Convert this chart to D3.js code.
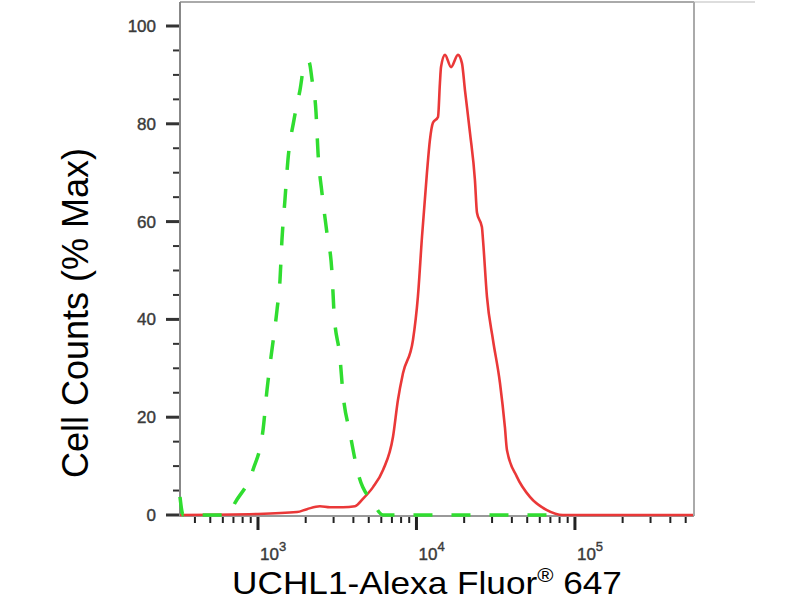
<!DOCTYPE html>
<html>
<head>
<meta charset="utf-8">
<script src="https://cdn.jsdelivr.net/npm/d3@7"></script>
<style>
  body { margin: 0; background: #fff; }
  text { font-family: "Liberation Sans", Arial, sans-serif; }
</style>
</head>
<body>
<svg id="canvas"></svg>
<script>
// fluorescence intensity (x) and % max (y)
const redX = [322, 986, 1762, 2037, 2460, 2844, 3436, 4093, 4592, 5321, 6152, 7112, 7638, 8222, 9506,
  10209, 10839, 11641, 12162, 12706, 13677, 14060, 14289, 15136, 16520, 18281, 19364, 20230, 21777,
  23388, 24099, 25882, 26303, 27861, 30409, 33651, 36141, 37239, 43053, 52000, 66527, 83946, 556000];
const redY = [0, 0.2, 0.6, 1.2, 1.8, 1.6, 1.6, 1.8, 3.3, 5.7, 9.2, 16, 23.5, 29, 35.8,
  44.6, 56.9, 69.9, 76.7, 80.2, 81.4, 88.3, 91.6, 94.1, 91.6, 94.1, 92.4, 86.9, 78.1,
  68.5, 61.8, 58.9, 56.2, 44.6, 35.8, 27, 18, 13.3, 7.8, 3.7, 1.0, 0, 0];

const greenX = [322, 337, 647, 716, 929, 1076, 1140, 1208, 1318, 1377, 1416, 1479, 1545, 1687, 1841,
  1982, 2099, 2193, 2323, 2393, 2535, 2723, 2931, 3020, 3289, 3436, 3802, 4276, 5321, 6152, 67600];
const greenY = [3.7, 0, 0, 2.5, 9.2, 17.4, 25.6, 32.3, 41.9, 48.1, 56.2, 64.4, 72.6, 80.8, 86.9,
  92.6, 92.6, 89, 82.4, 74, 65.8, 57.7, 49.5, 41.3, 32.3, 24.9, 16.8, 8.6, 2.5, 0, 0];

const xDomain = [322, 556000];
const yDomain = [0, 100];
const yLabels = [0, 20, 40, 60, 80, 100];
const xDecades = [3, 4, 5];

const width = 800, height = 600;
const plotL = 180, plotR = 694, plotT = 2, plotB = 516;

const svg = d3.select("#canvas").attr("width", width).attr("height", height);

const x = d3.scaleLog().domain(xDomain).range([plotL, 693]);
const y = d3.scaleLinear().domain(yDomain).range([515, 26]);

// frame
svg.append("line").attr("x1", 693).attr("x2", 755).attr("y1", plotT).attr("y2", plotT)
  .attr("stroke", "#ddd").attr("stroke-width", 2);
svg.append("line").attr("x1", plotL).attr("x2", plotR).attr("y1", plotT).attr("y2", plotT)
  .attr("stroke", "#aaa").attr("stroke-width", 2);
svg.append("line").attr("x1", plotR).attr("x2", plotR).attr("y1", plotT).attr("y2", plotB)
  .attr("stroke", "#aaa").attr("stroke-width", 2);

// y axis
const yMinor = d3.range(0, 101, 5);
svg.selectAll(".ytick").data(yMinor).enter().append("line")
  .attr("x1", d => plotL - (d % 20 === 0 ? 14 : 7)).attr("x2", plotL)
  .attr("y1", d => y(d)).attr("y2", d => y(d))
  .attr("stroke", "#333").attr("stroke-width", d => d % 20 === 0 ? 3 : 2);
svg.selectAll(".ylab").data(yLabels).enter().append("text")
  .attr("x", 156).attr("y", d => y(d)).attr("dy", "0.35em")
  .attr("text-anchor", "end").attr("font-size", 17).attr("fill", "#3a3a3a")
  .attr("stroke", "#3a3a3a").attr("stroke-width", 0.4)
  .text(d => d);
svg.append("line").attr("x1", plotL).attr("x2", plotL).attr("y1", plotT).attr("y2", plotB)
  .attr("stroke", "#888").attr("stroke-width", 2);

// x axis
const xTicks = [];
for (let e = 2; e <= 5; e++) for (let k = 1; k <= 9; k++) {
  const v = k * Math.pow(10, e);
  if (v >= xDomain[0] && v <= xDomain[1]) xTicks.push({ v: v, major: k === 1 });
}
svg.selectAll(".xtick").data(xTicks).enter().append("line")
  .attr("x1", d => x(d.v)).attr("x2", d => x(d.v))
  .attr("y1", plotB).attr("y2", d => plotB + (d.major ? 14 : 7))
  .attr("stroke", "#222").attr("stroke-width", d => d.major ? 3 : 2);
svg.append("line").attr("x1", plotL).attr("x2", plotR).attr("y1", plotB).attr("y2", plotB)
  .attr("stroke", "#999").attr("stroke-width", 2);

const xl = svg.selectAll(".xlab").data(xDecades).enter().append("text")
  .attr("x", d => x(Math.pow(10, d)) + 2).attr("y", 560)
  .attr("font-size", 17).attr("fill", "#3a3a3a")
  .attr("stroke", "#3a3a3a").attr("stroke-width", 0.4);
xl.append("tspan").text("10");
xl.append("tspan").attr("dy", -9).attr("font-size", 13).text(d => d);

// curves
const line = d3.line().x(d => x(d[0])).y(d => y(d[1])).curve(d3.curveMonotoneX);

svg.append("path").datum(redX.map((v, i) => [v, redY[i]]))
  .attr("d", line).attr("fill", "none")
  .attr("stroke", "#ea3838").attr("stroke-width", 2.6);

svg.append("path").datum(greenX.map((v, i) => [v, greenY[i]]))
  .attr("d", line).attr("fill", "none")
  .attr("stroke", "#30dd30").attr("stroke-width", 3.5)
  .attr("stroke-dasharray", "19,19");

// titles
const xt = svg.append("text")
  .attr("transform", "translate(427,594) scale(1.1,1)")
  .attr("text-anchor", "middle").attr("font-size", 32).attr("fill", "#000");
xt.append("tspan").text("UCHL1-Alexa Fluor");
xt.append("tspan").attr("dy", -12).attr("font-size", 20).text("®");
xt.append("tspan").attr("dy", 12).text(" 647");

svg.append("text")
  .attr("transform", "translate(88,313) rotate(-90)")
  .attr("text-anchor", "middle").attr("font-size", 36).attr("fill", "#000")
  .text("Cell Counts (% Max)");
</script>
</body>
</html>
